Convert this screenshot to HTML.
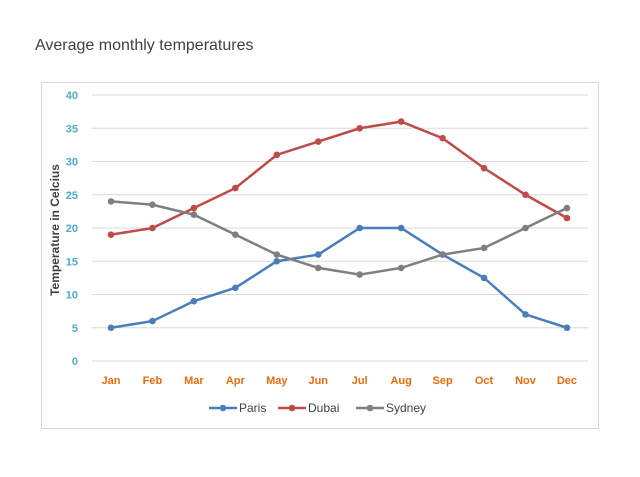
<!DOCTYPE html>
<html><head><meta charset="utf-8"><style>
body{margin:0;background:#fff;width:640px;height:472px;overflow:hidden;font-family:"Liberation Sans",sans-serif}
</style></head><body>
<svg width="640" height="472">
<text x="35" y="50" font-size="16" fill="#404040">Average monthly temperatures</text>
<rect x="41.5" y="82.5" width="557" height="346" fill="#fff" stroke="#d9d9d9"/>
<g id="grid"></g><g id="series"></g>
<text transform="translate(59,230) rotate(-90)" text-anchor="middle" font-size="12" font-weight="bold" fill="#404040">Temperature in Celcius</text>
<g id="legend"></g>
</svg>
<script>
const months=["Jan","Feb","Mar","Apr","May","Jun","Jul","Aug","Sep","Oct","Nov","Dec"];
const yTicks=[0,5,10,15,20,25,30,35,40];
const seriesNames=["Paris","Dubai","Sydney"];
const paris=[5,6,9,11,15,16,20,20,16,12.5,7,5];
const dubai=[19,20,23,26,31,33,35,36,33.5,29,25,21.5];
const sydney=[24,23.5,22,19,16,14,13,14,16,17,20,23];
const colors=["#4a7ebb","#be4b48","#7f7f7f"];
const NS="http://www.w3.org/2000/svg";
const x=i=>111+i*41.45, y=v=>361-v*6.65;
const g=document.getElementById('grid'),s=document.getElementById('series'),lg=document.getElementById('legend');
function mk(tag,a,p){const e=document.createElementNS(NS,tag);for(const k in a)e.setAttribute(k,a[k]);p.appendChild(e);return e;}
yTicks.forEach(t=>{
 const l=mk('line',{x1:92,x2:588,y1:y(t),y2:y(t),stroke:'#d9d9d9'},g);
 
 
 const tx=mk('text',{x:78,y:y(t)+4,'text-anchor':'end','font-size':11,'font-weight':'bold',fill:'#4bacc6'},g);
 tx.textContent=t;
 
 
});
months.forEach((m,i)=>{
 const tx=mk('text',{x:x(i),y:384,'text-anchor':'middle','font-size':11,'font-weight':'bold',fill:'#e46c0a'},g);
 tx.textContent=m;
 
 
});
[paris,dubai,sydney].forEach((d,k)=>{
 const pl=mk('polyline',{points:d.map((v,i)=>x(i)+','+y(v)).join(' '),fill:'none',stroke:colors[k],'stroke-width':2.5},s);
 
 
 d.forEach((v,i)=>{
  const c=mk('circle',{cx:x(i),cy:y(v),r:3.3,fill:colors[k]},s);
  
  
 });
});
const lx=[209,278,356];
seriesNames.forEach((n,k)=>{
 const l=mk('line',{x1:lx[k],x2:lx[k]+28,y1:408,y2:408,stroke:colors[k],'stroke-width':2.5},lg);
 
 
 const c=mk('circle',{cx:lx[k]+14,cy:408,r:3.3,fill:colors[k]},lg);
 
 
 const t=mk('text',{x:lx[k]+30,y:412,'font-size':12,fill:'#404040'},lg);
 t.textContent=n;
 
 
});
</script>
</body></html>
